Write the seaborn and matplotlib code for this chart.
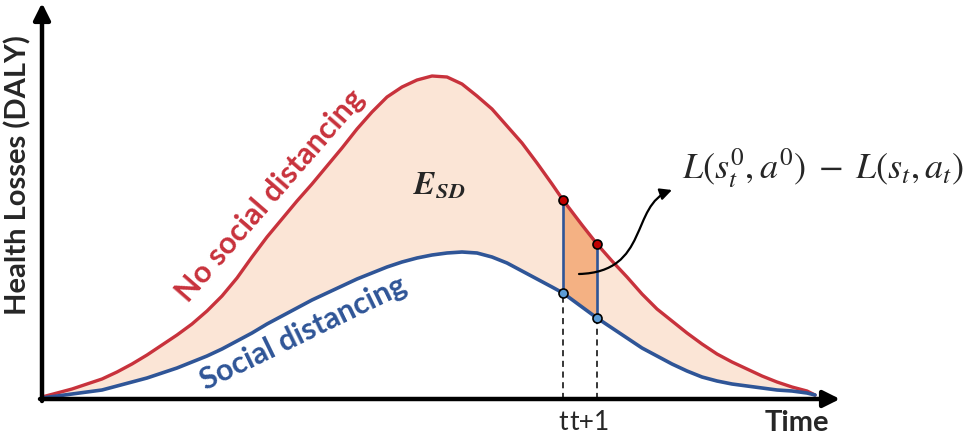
import matplotlib
matplotlib.use("Agg")
import pandas as pd
import matplotlib.pyplot as plt
import seaborn as sns
from matplotlib.path import Path
from matplotlib.patches import FancyArrowPatch

# ---------------------------------------------------------------
# data (time axis, health losses)
# ---------------------------------------------------------------
TIME = [0, 15, 30, 45, 60, 75, 90, 105, 120, 135, 150, 165, 180, 195,
        210, 225, 240, 255, 270, 285, 300, 315, 330, 345, 360, 375, 390,
        405, 420, 435, 450, 465, 480, 495, 510, 521, 540, 555, 570, 585,
        600, 615, 630, 645, 660, 675, 690, 705, 720, 735, 750, 765, 773]
NO_SD = [2, 6, 10, 15, 20, 27, 35, 44, 54, 64, 75, 88, 103, 121,
         142, 162, 180, 198, 215, 233, 251, 270, 287, 302, 312, 319, 323,
         322, 315, 303, 290, 273, 256, 236, 215, 199, 174, 155, 138, 122,
         105, 90, 78, 66, 55, 45, 37, 30, 23, 17, 12, 8, 4]
SD = [1, 3, 5, 7, 9, 13, 17, 21, 26, 31, 37, 43, 50, 58,
      66, 75, 83, 91, 99, 106, 113, 120, 126, 132, 137, 141, 144,
      146, 147, 146, 142, 136, 128, 120, 112, 106, 92, 81, 71, 61,
      51, 43, 35, 28, 22, 18, 15, 13, 11, 9, 8, 6, 4]
STEP_TIMES = [521, 555]
STEP_LABELS = ["t", "t+1"]

RED = "#C8323C"
BLUE = "#2F5597"
PEACH = "#FBE5D6"
ORANGE = "#F4B183"

sns.set_theme(style="white")
plt.rcParams["font.family"] = ["Lato", "DejaVu Sans"]
plt.rcParams["mathtext.fontset"] = "stix"

df = pd.DataFrame({"time": TIME, "no_sd": NO_SD, "sd": SD})

fig = plt.figure(figsize=(9.69, 4.45), dpi=100)
ax = fig.add_axes([0, 0, 1, 1])

# areas between the curves
ax.fill_between(df.time, df.sd, df.no_sd, color=PEACH, lw=0)
between = df.time.between(STEP_TIMES[0], STEP_TIMES[1])
ax.fill_between(df.time, df.sd, df.no_sd, where=between, color=ORANGE, lw=0)

# curves
sns.lineplot(data=df, x="time", y="no_sd", color=RED, lw=2.4, ax=ax,
             solid_joinstyle="round", solid_capstyle="round")
sns.lineplot(data=df, x="time", y="sd", color=BLUE, lw=2.6, ax=ax,
             solid_joinstyle="round", solid_capstyle="round")
ax.set_xlim(-42, 927)
ax.set_ylim(-46, 399)
ax.set_axis_off()

# step t -> t+1
step = df[df.time.isin(STEP_TIMES)]
ax.vlines(step.time, step.sd, step.no_sd, color=BLUE, lw=1.9, zorder=4)
ax.vlines(step.time, 0, step.sd, color="black", lw=1.1,
          linestyles=(0, (4, 3)), zorder=3)
ax.scatter(step.time, step.no_sd, s=42, color="#C00000",
           edgecolor="black", lw=1.2, zorder=5)
ax.scatter(step.time, step.sd, s=42, color="#5B9BD5",
           edgecolor="black", lw=1.2, zorder=5)

# axes arrows
arrow_kw = dict(arrowstyle="-|>,head_length=1.0,head_width=0.5",
                color="black", lw=3.2, shrinkA=0, shrinkB=0,
                mutation_scale=10)
ax.annotate("", xy=(798, 0), xytext=(-2, 0), arrowprops=arrow_kw, zorder=6)
ax.annotate("", xy=(0, 396), xytext=(0, -2), arrowprops=arrow_kw, zorder=6)

# labels
ax.text(755, -24, "Time", ha="center", va="center", fontsize=21,
        fontweight="bold")
ax.text(-24, 224, "Health Losses (DALY)", rotation=90, ha="center",
        va="center", fontsize=21, fontweight="bold")
ax.text(STEP_TIMES[0], -24, STEP_LABELS[0], ha="center", va="center",
        fontsize=19)
ax.text(STEP_TIMES[0] + 6, -24, STEP_LABELS[1], ha="left", va="center",
        fontsize=19)

ax.text(228, 203, "No social distancing", rotation=49, color=RED,
        fontsize=22, fontweight="bold", ha="center", va="center",
        rotation_mode="anchor")
ax.text(261, 66, "Social distancing", rotation=26, color=BLUE,
        fontsize=22, fontweight="bold", ha="center", va="center",
        rotation_mode="anchor")

ax.text(397, 214, r"$\mathbfit{E}_{\mathbfit{SD}}$", fontsize=23,
        ha="center", va="center")
ax.text(640, 231, r"$L(s_t^0, a^0) \;-\; L(s_t, a_t)$", fontsize=26,
        ha="left", va="center")

# curved pointer to the formula
verts = [(537, 125), (608, 127), (588, 194), (630, 209)]
codes = [Path.MOVETO, Path.CURVE4, Path.CURVE4, Path.CURVE4]
pointer = FancyArrowPatch(path=Path(verts, codes),
                          arrowstyle="-|>,head_length=0.7,head_width=0.35",
                          mutation_scale=10, color="black", lw=1.6, zorder=6)
ax.add_patch(pointer)

fig.savefig("out.png", dpi=100)
